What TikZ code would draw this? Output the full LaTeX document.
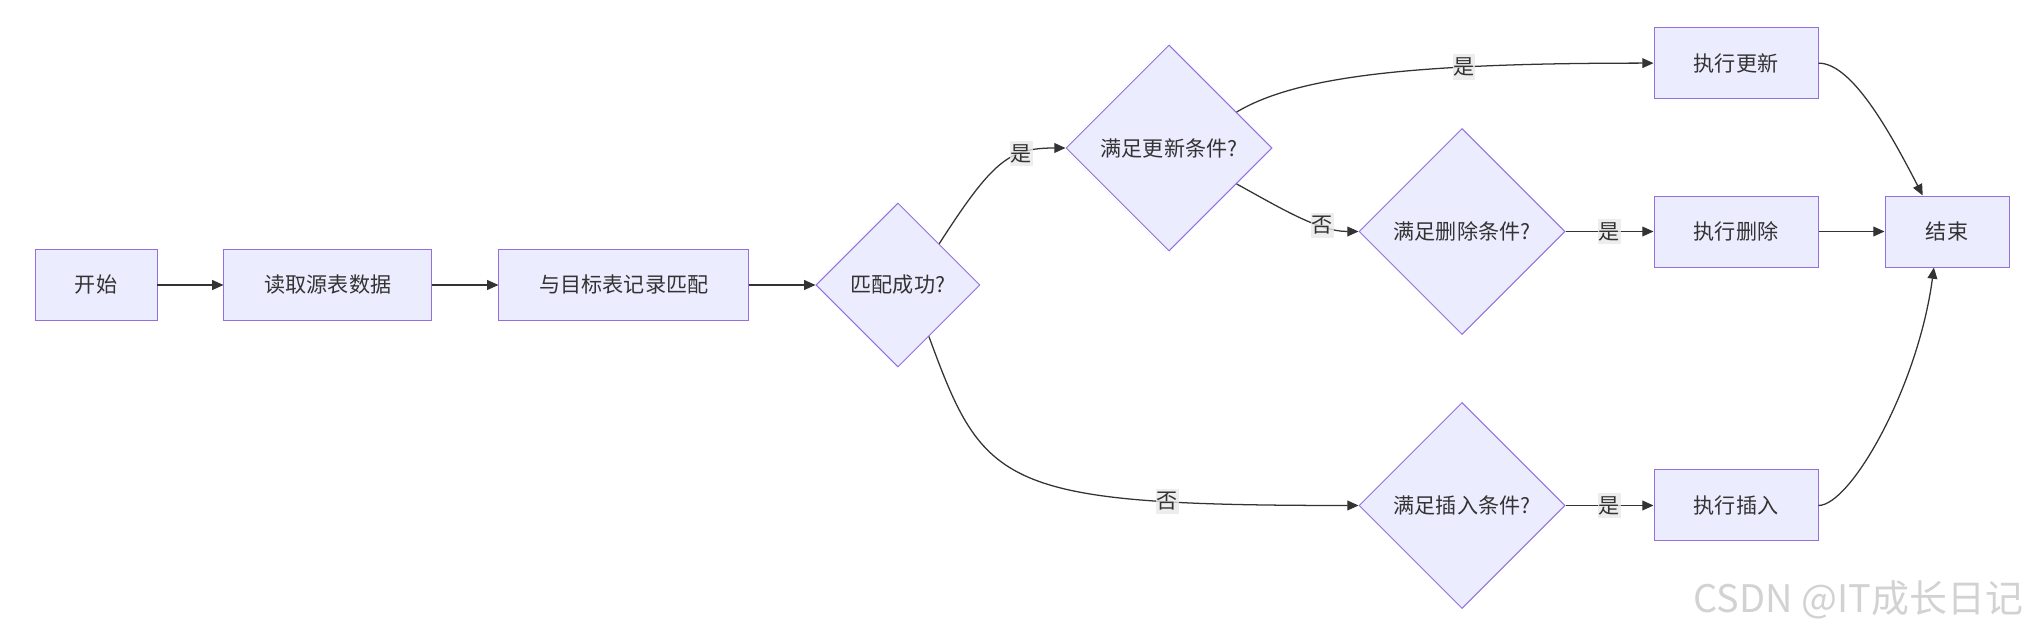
\documentclass[tikz,border=0pt]{standalone}
\usepackage{fontspec}
\newfontfamily\cjk{Noto Sans CJK SC}
\usetikzlibrary{positioning,shapes.geometric,arrows.meta}

\definecolor{nodeFill}{HTML}{ECECFF}
\definecolor{nodeLine}{HTML}{9370DB}
\definecolor{edgeLine}{HTML}{333333}
\definecolor{lblFill}{HTML}{E8E8E8}

\tikzset{
  proc/.style={rectangle, draw=nodeLine, fill=nodeFill, line width=0.7pt,
    minimum height=1.775cm, inner sep=0pt, text=edgeLine},
  decision/.style={diamond, aspect=1, draw=nodeLine, fill=nodeFill, line width=0.7pt,
    minimum width=5.15cm, minimum height=5.15cm, inner sep=0pt, text=edgeLine},
  arr/.style={draw=edgeLine, line width=0.9pt, -{Triangle[length=8pt,width=7pt]}},
  lbl/.style={fill=lblFill, fill opacity=0.8, text opacity=1, text=edgeLine,
    inner xsep=0.5pt, inner ysep=2.5pt},
}

\begin{document}
\begin{tikzpicture}[font=\cjk\fontsize{15}{18}\selectfont]
  \useasboundingbox (0,0) rectangle (50.85,-15.85);

  % Nodi principali
  \node[proc, minimum width=3.05cm] (start) at (2.4,-7.125) {开始};
  \node[proc, minimum width=5.2cm, right=1.65cm of start] (read) {读取源表数据};
  \node[proc, minimum width=6.25cm, right=1.65cm of read] (match) {与目标表记录匹配};
  \node[decision, minimum width=4.1cm, minimum height=4.1cm, right=1.65cm of match] (ok) {匹配成功?};

  % Condizioni e azioni
  \node[decision] (upd) at (29.225,-3.7) {满足更新条件?};
  \node[proc, minimum width=4.1cm] (doDel) at (43.4,-5.7875) {执行删除};
  \node[decision, left=2.2cm of doDel] (del) {满足删除条件?};
  \node[proc, minimum width=4.1cm, above=2.41cm of doDel] (doUpd) {执行更新};
  \node[proc, minimum width=3.1cm, right=1.65cm of doDel] (finish) {结束};
  \node[proc, minimum width=4.1cm, below=5.05cm of doDel] (doIns) {执行插入};
  \node[decision, left=2.2cm of doIns] (ins) {满足插入条件?};

  % Filigrana
  \node[text=gray!35, anchor=east, font=\cjk\fontsize{27}{30}\selectfont] (mark) at (50.7,-15.0) {CSDN @IT成长日记};

  % Archi
  \draw[arr] (start) -- (read);
  \draw[arr] (read) -- (match);
  \draw[arr] (match) -- (ok);
  \draw[arr] (ok.north east) .. controls +(1.35,2.1) and +(-1.4,0) .. node[lbl, pos=0.68] {是} (upd.west);
  \draw[arr] (upd.28) .. controls +(1.5,0.9) and +(-6,0) .. node[lbl, pos=0.69] {是} (doUpd.west);
  \draw[arr] (upd.-28) .. controls +(1.05,-0.575) and +(-1,0) .. node[lbl, pos=0.7] {否} (del.west);
  \draw[arr] (del) -- node[lbl] {是} (doDel);
  \draw[arr] (ok.-59) .. controls +(1.375,-3.75) and +(-8.975,0) .. node[lbl, pos=0.78] {否} (ins.west);
  \draw[arr] (ins) -- node[lbl] {是} (doIns);
  \draw[arr] (doUpd.east) .. controls +(0.8,0) and +(-0.9,1.75) .. (finish.124);
  \draw[arr] (doDel) -- (finish);
  \draw[arr] (doIns.east) .. controls +(0.8,0) and +(-0.4,-3) .. (finish.250);
\end{tikzpicture}
\end{document}
